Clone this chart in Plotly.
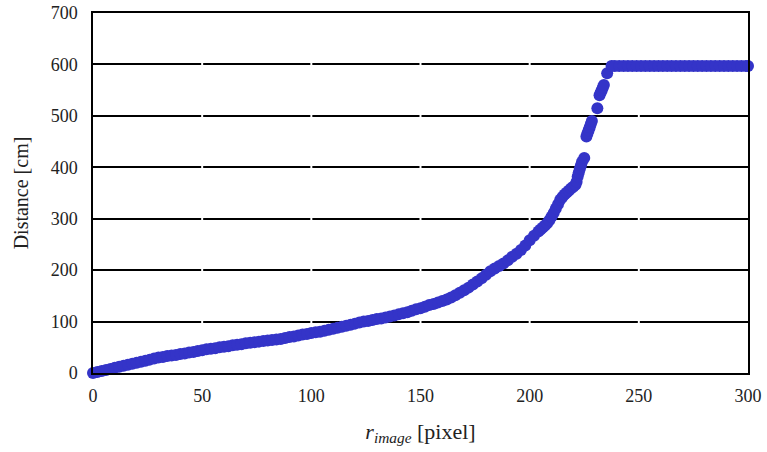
import plotly.graph_objects as go

# r_image [pixel]
r_image = [0, 2, 4, 6, 8, 10, 12, 14, 16, 18, 20, 22, 24, 26, 28, 30, 32, 34, 36, 38,
           40, 42, 44, 46, 48, 50, 52, 54, 56, 58, 60, 62, 64, 66, 68, 70, 72, 74, 76, 78,
           80, 82, 84, 86, 88, 90, 92, 94, 96, 98, 100, 102, 104, 106, 108, 110, 112, 114, 116, 118,
           120, 122, 124, 126, 128, 130, 132, 134, 136, 138, 140, 142, 144, 146, 148, 150, 152, 154, 156, 158,
           160, 162, 164, 166, 168, 170, 172, 174, 176, 178, 180, 182, 184, 186, 188, 190, 192, 194, 196, 198,
           200, 202, 204, 205, 206, 207, 208, 209, 210, 211, 212, 213, 214, 215, 216, 217, 218, 219, 220, 221,
           221.5, 222, 222.5, 223, 223.5, 224, 225, 226, 226.5, 227, 227.5, 228, 228.5, 231,
           232, 232.5, 233, 233.5, 234, 235.5, 237.5,
           239, 241, 243, 245, 247, 249, 251, 253, 255, 257, 259, 261, 263, 265, 267, 269,
           271, 273, 275, 277, 279, 281, 283, 285, 287, 289, 291, 293, 295, 297, 299, 300]
# Distance [cm]
distance = [0, 2, 4, 6, 8, 10, 12, 14, 16, 18, 20, 22, 24, 26, 28, 30, 31, 33, 34, 35,
            37, 38, 40, 41, 43, 44, 46, 47, 48, 50, 51, 52, 54, 55, 56, 58, 59, 60, 61, 62,
            63, 64, 65, 66, 68, 70, 71, 73, 75, 76, 78, 79, 80, 82, 84, 86, 88, 90, 92, 94,
            96, 98, 100, 101, 103, 105, 106, 108, 110, 112, 114, 116, 118, 121, 124, 126, 129, 132, 134, 137,
            140, 143, 147, 151, 156, 161, 166, 172, 178, 184, 191, 198, 203, 208, 213, 219, 226, 232, 239, 248,
            258, 267, 275, 279, 283, 287, 291, 297, 304, 311, 320, 328, 337, 342, 347, 351, 355, 359, 362, 366,
            372, 382, 390, 397, 404, 411, 418, 460, 466, 472, 478, 484, 490, 515,
            540, 545, 550, 555, 560, 583, 597,
            597, 597, 597, 597, 597, 597, 597, 597, 597, 597, 597, 597, 597, 597, 597, 597,
            597, 597, 597, 597, 597, 597, 597, 597, 597, 597, 597, 597, 597, 597, 597, 597]

x_ticks = [0, 50, 100, 150, 200, 250, 300]
y_ticks = [0, 100, 200, 300, 400, 500, 600, 700]
grid_breaks = [50, 100, 150, 200, 250]

fig = go.Figure()
fig.add_trace(go.Scatter(
    x=r_image, y=distance, mode="markers",
    marker=dict(size=12, color="#3434C8", line=dict(width=0)),
    cliponaxis=False, showlegend=False,
))

# small white breaks in the gridlines at each x tick (as in the reference)
for xb in grid_breaks:
    fig.add_shape(type="line", xref="x", yref="y", x0=xb, x1=xb, y0=60, y1=640,
                  line=dict(color="white", width=2), layer="between")

serif = "Liberation Serif, DejaVu Serif, Times New Roman, serif"
fig.update_layout(
    width=767, height=452,
    margin=dict(l=93, r=19, t=13, b=79, autoexpand=False),
    paper_bgcolor="white", plot_bgcolor="white",
    font=dict(family=serif, size=18, color="#222222"),
    xaxis=dict(
        range=[0, 300], tickvals=x_ticks, ticks="", showgrid=False, zeroline=False,
        showline=True, linecolor="black", linewidth=1.5, mirror=True, automargin=False,
        tickfont=dict(family=serif, size=18), ticklabelstandoff=6,
        title=dict(text="<i>r</i><sub><i>image</i></sub> [pixel]", font=dict(family=serif, size=22), standoff=18),
    ),
    yaxis=dict(
        range=[0, 700], tickvals=y_ticks, ticks="", showgrid=True, gridcolor="black", gridwidth=1.5,
        zeroline=False, showline=True, linecolor="black", linewidth=1.5, mirror=True, automargin=False,
        tickfont=dict(family=serif, size=18), ticklabelstandoff=10,
        title=dict(text="Distance [cm]", font=dict(family=serif, size=20), standoff=17),
    ),
)
fig.write_html("out.html")
